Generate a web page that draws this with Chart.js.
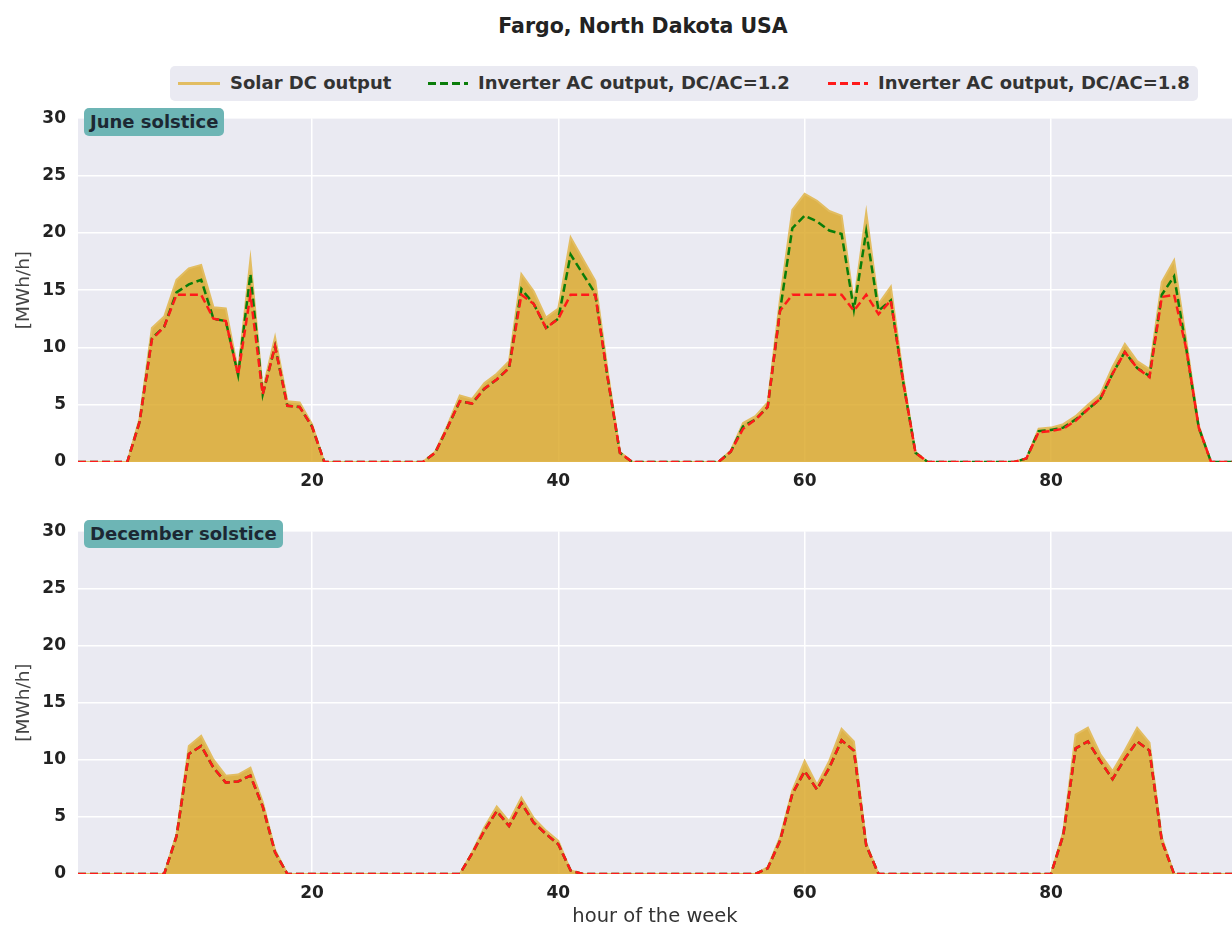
<!DOCTYPE html>
<html>
<head>
<meta charset="utf-8">
<script src="https://cdn.jsdelivr.net/npm/chart.js@4.4.1/dist/chart.umd.min.js"></script>
<style>
  body { margin:0; width:1232px; height:926px; overflow:hidden; background:#fff; position:relative;
         font-family:"DejaVu Sans", sans-serif; }
  #title { position:absolute; left:0; width:1286px; top:14px; text-align:center; font-weight:bold; font-size:20.5px; color:#222; }
  #legend { position:absolute; left:170px; top:66px; width:1028px; height:35px; background:#eaeaf2; border-radius:5px; }
  .sw { position:absolute; top:16px; height:3px; }
  .lt { position:absolute; top:6px; font-weight:bold; font-size:18px; color:#333; white-space:nowrap; }
  .solid { background:#e2bd62; }
  .dash-g { background:repeating-linear-gradient(90deg, #0a7d0a 0 8px, transparent 8px 12px); }
  .dash-r { background:repeating-linear-gradient(90deg, #ff1a1a 0 8px, transparent 8px 12px); }
  .wrap { position:absolute; left:0; width:1232px; }
  .tag { position:absolute; left:84px; height:28px; line-height:28px; padding:0 6px; background:#6db5b5;
         border-radius:5px; font-weight:bold; font-size:18px; color:#1c2833; z-index:5; }
</style>
</head>
<body>
<div id="title">Fargo, North Dakota USA</div>
<div id="legend">
  <div class="sw solid" style="left:8px;width:42px"></div><div class="lt" style="left:60px">Solar DC output</div>
  <div class="sw dash-g" style="left:258px;width:40px"></div><div class="lt" style="left:308px">Inverter AC output, DC/AC=1.2</div>
  <div class="sw dash-r" style="left:658px;width:40px"></div><div class="lt" style="left:708px">Inverter AC output, DC/AC=1.8</div>
</div>
<div class="wrap" id="w1" style="top:96px;height:410px"><canvas id="c1"></canvas></div>
<div class="wrap" id="w2" style="top:509px;height:417px"><canvas id="c2"></canvas></div>
<div class="tag" style="top:108px">June solstice</div>
<div class="tag" style="top:520px">December solstice</div>
<script>
// hour of the week
var hours = [];
for (var h = 1; h <= 95; h++) hours.push(h);

var xTicks = [20, 40, 60, 80];
var yTicks = [0, 5, 10, 15, 20, 25, 30];

// June solstice week [MWh/h]
var juneSolar = [
  0,0,0,0,0, 3.8,11.7,12.7,15.9,16.9,17.2,13.5,13.4,7.9,17.7,6.3,10.9,5.3,5.2,3.3, 0,0,0,0,
  0,0,0,0,0, 0.9,3.2,5.8,5.5,6.9,7.7,8.8,16.4,14.9,12.6,13.4,19.6,17.7,15.8,8.0,0.9, 0,0,0,
  0,0,0,0,0, 1.0,3.4,4.0,5.2,14.2,22.0,23.4,22.8,21.9,21.5,13.9,21.8,13.8,15.3,7.5,0.9, 0,0,0,
  0,0,0,0,0, 0.3,2.9,3.0,3.3,4.0,5.0,5.9,8.3,10.3,8.8,8.1,15.7,17.6,10.5,3.2, 0,0,0
];
var juneAC12 = [
  0,0,0,0,0, 3.5,10.8,11.8,14.8,15.5,15.9,12.5,12.3,7.6,16.4,5.9,10.1,4.9,4.8,3.1, 0,0,0,0,
  0,0,0,0,0, 0.8,3.0,5.3,5.1,6.4,7.2,8.2,15.1,13.8,11.7,12.5,18.1,16.4,14.7,7.4,0.8, 0,0,0,
  0,0,0,0,0, 0.9,3.1,3.7,4.8,13.2,20.4,21.5,21.0,20.2,19.9,13.3,20.1,13.2,14.1,7.0,0.8, 0,0,0,
  0,0,0,0,0, 0.3,2.7,2.8,3.0,3.7,4.6,5.5,7.7,9.6,8.2,7.5,14.6,16.2,9.8,3.0, 0,0,0
];
var juneAC18 = [
  0,0,0,0,0, 3.5,10.7,11.8,14.6,14.6,14.6,12.5,12.3,7.6,14.6,5.9,10.1,4.9,4.8,3.1, 0,0,0,0,
  0,0,0,0,0, 0.8,3.0,5.3,5.1,6.4,7.2,8.2,14.6,13.8,11.7,12.5,14.6,14.6,14.6,7.4,0.8, 0,0,0,
  0,0,0,0,0, 0.9,2.9,3.7,4.8,13.2,14.6,14.6,14.6,14.6,14.6,13.2,14.6,12.9,14.1,7.0,0.8, 0,0,0,
  0,0,0,0,0, 0.3,2.6,2.7,2.9,3.6,4.6,5.5,7.7,9.6,8.2,7.4,14.4,14.6,9.8,3.0, 0,0,0
];

// December solstice week [MWh/h]
var decSolar = [
  0,0,0,0,0,0,0,0, 3.5,11.2,12.1,10.0,8.6,8.7,9.3,6.3,2.1, 0,0,0,0,0,0,0,
  0,0,0,0,0,0,0,0, 1.9,4.1,5.9,4.6,6.7,4.9,3.8,2.9,0.3, 0,0,0,0,0,0,0,
  0,0,0,0,0,0,0,0, 0.6,3.2,7.3,9.9,7.8,9.9,12.7,11.6,2.7, 0,0,0,0,0,0,0,
  0,0,0,0,0,0,0,0, 3.7,12.2,12.8,10.5,9.0,10.8,12.8,11.5,3.2, 0,0,0,0,0,0
];
var decAC12 = [
  0,0,0,0,0,0,0,0, 3.3,10.5,11.2,9.3,8.0,8.1,8.6,5.9,1.9, 0,0,0,0,0,0,0,
  0,0,0,0,0,0,0,0, 1.8,3.8,5.5,4.2,6.2,4.5,3.5,2.6,0.3, 0,0,0,0,0,0,0,
  0,0,0,0,0,0,0,0, 0.5,2.9,7.0,9.0,7.4,9.3,11.7,10.8,2.5, 0,0,0,0,0,0,0,
  0,0,0,0,0,0,0,0, 3.4,11.0,11.6,9.9,8.3,10.1,11.6,10.8,2.9, 0,0,0,0,0,0
];
var decAC18 = [
  0,0,0,0,0,0,0,0, 3.3,10.5,11.2,9.3,8.0,8.1,8.6,5.9,1.9, 0,0,0,0,0,0,0,
  0,0,0,0,0,0,0,0, 1.8,3.8,5.5,4.2,6.2,4.5,3.5,2.6,0.3, 0,0,0,0,0,0,0,
  0,0,0,0,0,0,0,0, 0.5,2.9,7.0,9.0,7.4,9.3,11.7,10.8,2.5, 0,0,0,0,0,0,0,
  0,0,0,0,0,0,0,0, 3.4,11.0,11.6,9.9,8.3,10.1,11.6,10.8,2.9, 0,0,0,0,0,0
];

// gray seaborn-like plot background
var plotBg = {
  id: 'plotBg',
  beforeDraw: function(chart) {
    var a = chart.chartArea, ctx = chart.ctx;
    ctx.save();
    ctx.fillStyle = '#eaeaf2';
    ctx.fillRect(a.left, a.top, a.right - a.left, a.bottom - a.top);
    ctx.restore();
  }
};

function makeChart(id, solar, ac12, ac18, padTop, xHeight, xTitle) {
  return new Chart(document.getElementById(id), {
    type: 'line',
    data: {
      labels: hours,
      datasets: [
        { label: 'Solar DC output', data: solar, order: 3,
          borderColor: 'rgba(226,189,98,1)', borderWidth: 2,
          backgroundColor: 'rgba(218,165,32,0.8)', fill: 'origin' },
        { label: 'Inverter AC output, DC/AC=1.2', data: ac12, order: 2,
          borderColor: '#0a7d0a', borderWidth: 2.5, borderDash: [8, 4], fill: false },
        { label: 'Inverter AC output, DC/AC=1.8', data: ac18, order: 1,
          borderColor: '#ff1a1a', borderWidth: 2.5, borderDash: [8, 4], fill: false }
      ]
    },
    options: {
      responsive: true,
      maintainAspectRatio: false,
      animation: false,
      layout: { padding: { top: padTop, left: 0, right: 0, bottom: 0 } },
      elements: { point: { radius: 0 }, line: { tension: 0 } },
      plugins: { legend: { display: false }, tooltip: { enabled: false } },
      scales: {
        x: {
          type: 'linear', min: 1, max: 94.7,
          afterBuildTicks: function(s) { s.ticks = xTicks.map(function(v){ return { value: v }; }); },
          afterFit: function(s) { s.height = xHeight; },
          grid: { color: '#ffffff', lineWidth: 1.5, drawTicks: false },
          border: { display: false },
          ticks: { padding: 9, color: '#222', font: { family: 'DejaVu Sans', size: 17, weight: 'bold' } },
          title: { display: !!xTitle, text: xTitle || '', color: '#333', padding: { top: 4, bottom: -3 },
                   font: { family: 'DejaVu Sans', size: 19.5 } }
        },
        y: {
          min: 0, max: 30,
          afterBuildTicks: function(s) { s.ticks = yTicks.map(function(v){ return { value: v }; }); },
          afterFit: function(s) { s.width = 78; },
          grid: { color: '#ffffff', lineWidth: 1.5, drawTicks: false },
          border: { display: false },
          ticks: { padding: 12, color: '#222', font: { family: 'DejaVu Sans', size: 17, weight: 'bold' } },
          title: { display: true, text: '[MWh/h]', color: '#444', padding: { top: 13, bottom: 0 },
                   font: { family: 'DejaVu Sans', size: 18.5 } }
        }
      }
    },
    plugins: [plotBg]
  });
}

makeChart('c1', juneSolar, juneAC12, juneAC18, 2, 44, null);
makeChart('c2', decSolar, decAC12, decAC18, 0, 52, 'hour of the week');
</script>
</body>
</html>
